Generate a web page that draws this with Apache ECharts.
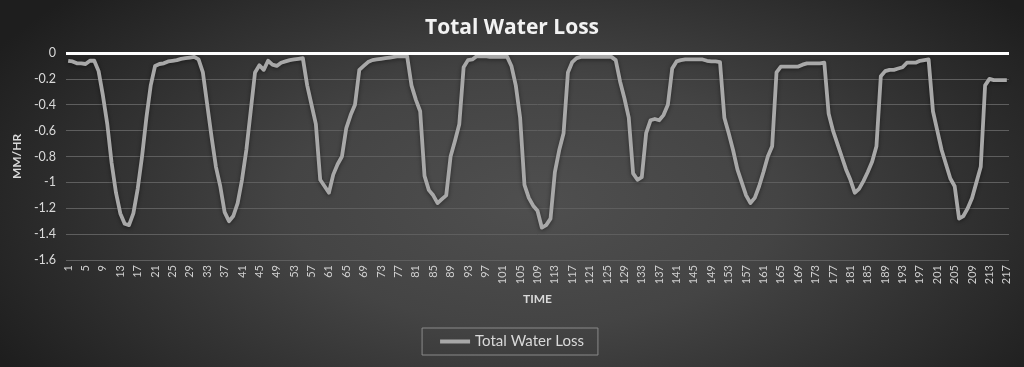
<!DOCTYPE html>
<html>
<head>
<meta charset="utf-8">
<script src="https://cdn.jsdelivr.net/npm/echarts@6/dist/echarts.min.js"></script>
<style>
html,body{margin:0;padding:0;}
body{width:1024px;height:367px;background:radial-gradient(ellipse 60% 85% at 52% 55%, #4f4f4f 0%, #444 40%, #2e2e2e 75%, #1e1e1e 100%);}
#chart{width:1024px;height:367px;}
</style>
</head>
<body>
<div id="chart"></div>
<script>
const titleText = "Total Water Loss";
const seriesName = "Total Water Loss";
const yAxisName = "MM/HR";
const xAxisName = "TIME";
const categories = [];
for (let i = 1; i <= 217; i++) categories.push(String(i));
const waterLoss = [
-0.06,-0.065,-0.08,-0.08,-0.085,-0.06,-0.06,-0.14,-0.33,-0.55,
-0.85,-1.08,-1.24,-1.32,-1.33,-1.24,-1.05,-0.80,-0.50,-0.25,
-0.10,-0.085,-0.08,-0.065,-0.06,-0.055,-0.045,-0.04,-0.035,-0.03,
-0.05,-0.15,-0.40,-0.65,-0.88,-1.03,-1.23,-1.30,-1.26,-1.16,
-0.98,-0.75,-0.45,-0.15,-0.095,-0.13,-0.06,-0.09,-0.10,-0.075,
-0.065,-0.055,-0.05,-0.045,-0.04,-0.25,-0.40,-0.55,-0.98,-1.03,
-1.08,-0.94,-0.86,-0.80,-0.58,-0.48,-0.40,-0.13,-0.10,-0.07,
-0.055,-0.05,-0.045,-0.04,-0.035,-0.03,-0.025,-0.025,-0.025,-0.25,
-0.36,-0.45,-0.95,-1.06,-1.10,-1.16,-1.13,-1.10,-0.80,-0.68,
-0.55,-0.11,-0.055,-0.05,-0.025,-0.025,-0.025,-0.03,-0.03,-0.03,
-0.03,-0.028,-0.10,-0.25,-0.50,-1.02,-1.12,-1.18,-1.22,-1.35,
-1.33,-1.28,-0.92,-0.75,-0.62,-0.15,-0.07,-0.04,-0.03,-0.03,
-0.03,-0.03,-0.03,-0.03,-0.03,-0.03,-0.055,-0.22,-0.35,-0.50,
-0.93,-0.98,-0.96,-0.62,-0.52,-0.51,-0.52,-0.48,-0.40,-0.12,
-0.065,-0.055,-0.05,-0.05,-0.05,-0.05,-0.05,-0.06,-0.065,-0.065,
-0.07,-0.50,-0.62,-0.75,-0.90,-1.00,-1.10,-1.16,-1.12,-1.03,
-0.92,-0.80,-0.72,-0.15,-0.105,-0.105,-0.105,-0.105,-0.105,-0.09,
-0.08,-0.08,-0.08,-0.08,-0.075,-0.47,-0.60,-0.70,-0.80,-0.90,
-0.98,-1.08,-1.05,-0.99,-0.92,-0.84,-0.72,-0.18,-0.14,-0.13,
-0.13,-0.12,-0.11,-0.075,-0.075,-0.075,-0.06,-0.055,-0.05,-0.45,
-0.60,-0.75,-0.86,-0.97,-1.03,-1.28,-1.26,-1.20,-1.12,-1.00,
-0.88,-0.25,-0.20,-0.21,-0.21,-0.21,-0.21
];
const yMin = -1.6, yMax = 0, yStep = 0.2;

const font = 'Lato, "Open Sans", sans-serif';
const chart = echarts.init(document.getElementById('chart'), null, {renderer:'canvas'});
chart.setOption({
  backgroundColor: 'transparent',
  animation: false,
  textStyle: {fontFamily: font},
  title: {
    text: titleText, left: 'center', top: 13,
    textStyle: {color: '#f2f2f2', fontSize: 21, fontWeight: 'bold', fontFamily: '"Open Sans", sans-serif'}
  },
  legend: {
    data: [seriesName], bottom: 12, left: 'center',
    icon: 'rect',
    borderColor: '#8a8a8a', borderWidth: 1, padding: [6, 14, 6, 18],
    itemWidth: 30, itemHeight: 4, itemGap: 4,
    textStyle: {color: '#d9d9d9', fontSize: 15, fontFamily: font}
  },
  grid: {left: 66, right: 15, top: 53, bottom: 107, containLabel: false},
  xAxis: {
    type: 'category', data: categories, boundaryGap: true,
    name: xAxisName, nameLocation: 'middle', nameGap: 33,
    nameTextStyle: {color: '#d9d9d9', fontSize: 12, fontWeight: 'bold', fontFamily: font},
    axisLine: {show: false}, axisTick: {show: false},
    axisLabel: {interval: 3, rotate: 90, color: '#d0d0d0', fontSize: 11, margin: 5, fontFamily: font},
    splitLine: {show: false}
  },
  yAxis: {
    type: 'value', min: yMin, max: yMax, interval: yStep,
    name: yAxisName, nameLocation: 'middle', nameGap: 34, nameRotate: 90,
    nameTextStyle: {color: '#d9d9d9', fontSize: 12, fontWeight: 'bold', fontFamily: font},
    axisLine: {show: false}, axisTick: {show: false},
    axisLabel: {color: '#d9d9d9', fontSize: 12.5, margin: 10, fontFamily: font},
    splitLine: {lineStyle: {color: '#5e5e5e', width: 1}}
  },
  series: [{
    name: seriesName, type: 'line', data: waterLoss,
    symbol: 'none', showSymbol: false,
    lineStyle: {color: '#a8a8a8', width: 3.8, shadowColor: 'rgba(0,0,0,0.45)', shadowBlur: 4, shadowOffsetY: 1, join: 'round'},
    itemStyle: {color: '#a8a8a8'},
    markLine: {
      silent: true, symbol: 'none', label: {show: false},
      lineStyle: {color: '#ffffff', width: 3, type: 'solid'},
      data: [{yAxis: 0}]
    },
    z: 3
  }]
});
</script>
</body>
</html>
